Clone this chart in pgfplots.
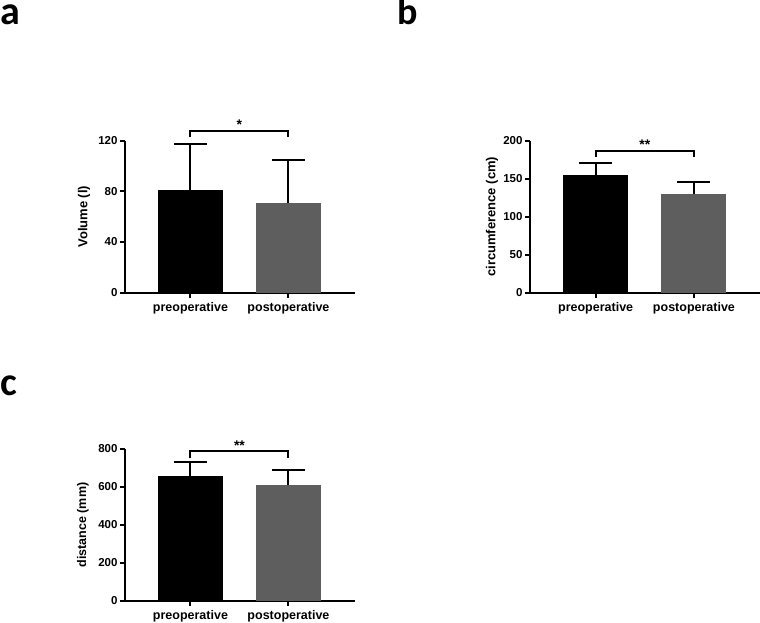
\documentclass[border=0pt]{standalone}
\usepackage{pgfplots}
\pgfplotsset{compat=1.18}
\usepackage{fontspec}
\setmainfont{Liberation Sans}
\newfontfamily\letterfont{Carlito}
\definecolor{postgray}{HTML}{5E5E5E}
\pgfplotsset{
  panel/.style={
    scale only axis, width=230pt, height=152pt,
    anchor=south west,
    axis x line=bottom, axis y line=left,
    axis line style={-, line width=2pt},
    xmin=-0.668, xmax=1.679, ymin=0,
    xtick={0,1}, xticklabels={preoperative,postoperative},
    tick style={line width=2pt, black}, major tick length=5pt,
    tick align=outside,
    x tick label style={font=\fontsize{12.5}{14}\selectfont\bfseries, yshift=-1pt},
    y tick label style={font=\fontsize{11.5}{13}\selectfont\bfseries, xshift=1pt},
    /pgf/number format/assume math mode=true,
    clip=false,
    ybar, bar width=65pt, bar shift=0pt,
  },
  ebar/.style={error bars/.cd, y dir=plus, y explicit,
    error bar style={line width=2pt, black},
    error mark options={rotate=90, mark size=16.5pt, line width=2pt, black}},
}
\begin{document}
\begin{tikzpicture}
\path (0pt,0pt) rectangle (760pt,622pt);
% panel letters
\node[anchor=base west, inner sep=0pt] at (0pt,597pt) {\letterfont\bfseries\fontsize{40}{44}\selectfont a};
\node[anchor=base west, inner sep=0pt] at (397pt,597pt) {\letterfont\bfseries\fontsize{38}{44}\selectfont b};
\node[anchor=base west, inner sep=0pt] at (0pt,227pt) {\letterfont\bfseries\fontsize{40}{44}\selectfont c};

% ---------- a ----------
\begin{axis}[panel, at={(125pt,329.3pt)},
  ymax=120, ytick={0,40,80,120},
  ylabel={Volume (l)},
  ylabel style={at={(axis description cs:-0.178,0.5)}, anchor=center, rotate=0, font=\fontsize{13}{15}\selectfont\bfseries}]
\addplot[fill=black, draw=none, ebar] coordinates {(0,80.8) +- (0,36.6)};
\addplot[fill=postgray, draw=none, ebar] coordinates {(1,70.6) +- (0,33.9)};
\draw[line width=2pt] (axis cs:0,122.9) -- (axis cs:0,127.7) -- (axis cs:1,127.7) -- (axis cs:1,122.9);
\node[anchor=south, inner sep=1pt, font=\fontsize{14}{15}\selectfont\bfseries] at (axis cs:0.5,127.7) {*};
\end{axis}

% ---------- b ----------
\begin{axis}[panel, at={(530pt,329.3pt)},
  xmax=1.672,
  ymax=200, ytick={0,50,100,150,200},
  ylabel={circumference (cm)},
  ylabel style={at={(axis description cs:-0.165,0.5)}, anchor=center, rotate=0, font=\fontsize{13}{15}\selectfont\bfseries}]
\addplot[fill=black, draw=none, ebar] coordinates {(0,155.3) +- (0,15.0)};
\addplot[fill=postgray, draw=none, ebar] coordinates {(1,129.9) +- (0,15.4)};
\draw[line width=2pt] (axis cs:0,179) -- (axis cs:0,186.8) -- (axis cs:1,186.8) -- (axis cs:1,179);
\node[anchor=south, inner sep=1pt, font=\fontsize{14}{15}\selectfont\bfseries] at (axis cs:0.5,186.8) {**};
\end{axis}

% ---------- c ----------
\begin{axis}[panel, at={(125pt,21pt)},
  ymax=800, ytick={0,200,400,600,800},
  ylabel={distance (mm)},
  ylabel style={at={(axis description cs:-0.183,0.5)}, anchor=center, rotate=0, font=\fontsize{12.5}{15}\selectfont\bfseries}]
\addplot[fill=black, draw=none, ebar] coordinates {(0,659.6) +- (0,70.4)};
\addplot[fill=postgray, draw=none, ebar] coordinates {(1,610.5) +- (0,77.5)};
\draw[line width=2pt] (axis cs:0,751) -- (axis cs:0,787) -- (axis cs:1,787) -- (axis cs:1,751);
\node[anchor=south, inner sep=1pt, font=\fontsize{14}{15}\selectfont\bfseries] at (axis cs:0.5,787) {**};
\end{axis}
\pgfresetboundingbox
\path (0pt,0pt) rectangle (760pt,622pt);
\end{tikzpicture}
\end{document}
